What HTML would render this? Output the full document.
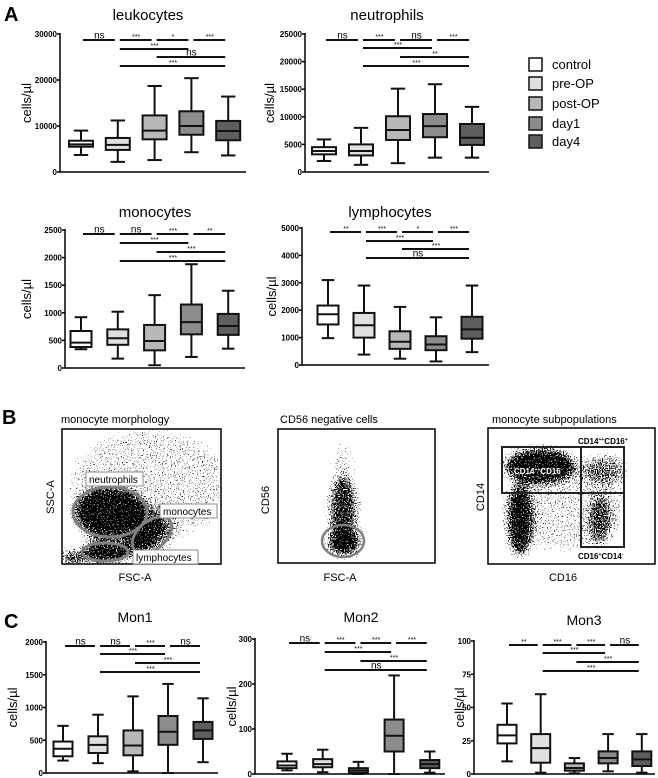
<!DOCTYPE html>
<html><head><meta charset="utf-8"><style>
html,body{margin:0;padding:0;background:#fff;}
svg{display:block;font-family:"Liberation Sans",Arial,sans-serif;}
</style></head><body>
<svg id="fig" width="658" height="778" viewBox="0 0 658 778">
<defs>
<filter id="spk" x="0" y="0" width="100%" height="100%" filterUnits="userSpaceOnUse">
 <feGaussianBlur in="SourceGraphic" stdDeviation="5" result="b"/>
 <feTurbulence type="fractalNoise" baseFrequency="0.85" numOctaves="1" seed="4" result="n"/>
 <feColorMatrix in="n" type="matrix" values="0 0 0 0 0  0 0 0 0 0  0 0 0 0 0  2.2 0 0 0 -0.55" result="na"/>
 <feComposite in="b" in2="na" operator="arithmetic" k1="0" k2="1" k3="-1" k4="0" result="d"/>
 <feComponentTransfer in="d"><feFuncA type="discrete" tableValues="0 1 1 1 1 1 1 1 1 1 1 1"/></feComponentTransfer>
</filter>
</defs>
<g font-weight="bold" font-size="20">
<text x="4" y="21">A</text>
<text x="2" y="424">B</text>
<text x="4" y="628">C</text>
</g>
<g id="charts"></g>
<g id="legend"></g>

<!-- Panel B -->
<g>
 <text x="61" y="423" font-size="11">monocyte morphology</text>
 <clipPath id="c1"><rect x="62" y="429" width="159" height="135"/></clipPath>
 <g filter="url(#spk)" clip-path="url(#c1)">
  <rect x="62" y="430" width="159" height="134" fill="#fff" opacity="0"/>
  <ellipse cx="150" cy="485" rx="80" ry="55" fill="#000" opacity="0.28"/>
  <ellipse cx="110" cy="512" rx="36" ry="25" fill="#000"/>
  <ellipse cx="145" cy="535" rx="22" ry="13" fill="#000" transform="rotate(-40 145 535)"/>
  <ellipse cx="105" cy="553" rx="25" ry="10" fill="#000"/>
  <ellipse cx="72" cy="558" rx="12" ry="6" fill="#000"/>
  <ellipse cx="130" cy="530" rx="45" ry="30" fill="#000" opacity="0.5"/>
 </g>
 <rect x="62" y="429" width="159" height="135" fill="none" stroke="#000" stroke-width="1.5"/>
 <g fill="none" stroke="#808080" stroke-width="3">
  <ellipse cx="110" cy="512" rx="37" ry="25"/>
  <ellipse cx="152" cy="535" rx="23" ry="14" transform="rotate(-40 152 535)"/>
  <ellipse cx="105" cy="552" rx="23" ry="9"/>
 </g>
 <g font-size="10">
  <rect x="86" y="472" width="57" height="14" fill="#fff" stroke="#888"/><text x="89" y="483">neutrophils</text>
  <rect x="160" y="504" width="57" height="14" fill="#fff" stroke="#888"/><text x="163" y="515">monocytes</text>
  <rect x="133" y="550" width="65" height="14" fill="#fff" stroke="#888"/><text x="136" y="561">lymphocytes</text>
 </g>
 <text x="135" y="581" font-size="11" text-anchor="middle">FSC-A</text>
 <text transform="translate(54 497) rotate(-90)" font-size="11" text-anchor="middle">SSC-A</text>
</g>

<g>
 <text x="280" y="423" font-size="11">CD56 negative cells</text>
 <g filter="url(#spk)">
  <rect x="278" y="429" width="157" height="134" fill="#fff" opacity="0"/>
  <ellipse cx="343" cy="470" rx="10" ry="28" fill="#000" opacity="0.3"/>
  <ellipse cx="343" cy="512" rx="14" ry="36" fill="#000" opacity="0.85"/>
  <ellipse cx="344" cy="542" rx="17" ry="14" fill="#000"/>
 </g>
 <rect x="278" y="429" width="157" height="134" fill="none" stroke="#000" stroke-width="1.5"/>
 <ellipse cx="343" cy="541" rx="21" ry="16" fill="none" stroke="#808080" stroke-width="2.5"/>
 <text x="340" y="581" font-size="11" text-anchor="middle">FSC-A</text>
 <text transform="translate(269 500) rotate(-90)" font-size="11" text-anchor="middle">CD56</text>
</g>

<g>
 <text x="492" y="423" font-size="11">monocyte subpopulations</text>
 <g filter="url(#spk)">
  <rect x="488" y="428" width="167" height="136" fill="#fff" opacity="0"/>
  <ellipse cx="565" cy="505" rx="60" ry="45" fill="#000" opacity="0.28"/>
  <ellipse cx="540" cy="466" rx="36" ry="18" fill="#000"/>
  <ellipse cx="520" cy="520" rx="13" ry="36" fill="#000"/>
  <ellipse cx="600" cy="520" rx="12" ry="26" fill="#000" opacity="0.7"/>
  <ellipse cx="605" cy="470" rx="22" ry="15" fill="#000" opacity="0.6"/>
 </g>
 <rect x="488" y="428" width="167" height="136" fill="none" stroke="#000" stroke-width="1.5"/>
 <g fill="none" stroke="#222" stroke-width="2">
  <rect x="502" y="447" width="79" height="46"/>
  <rect x="581" y="447" width="43" height="46"/>
  <rect x="581" y="493" width="43" height="54"/>
 </g>
 <g font-size="8" font-weight="bold">
  <text x="578" y="444">CD14<tspan dy="-3" font-size="5">++</tspan><tspan dy="3">CD16</tspan><tspan dy="-3" font-size="5">+</tspan></text>
  <text x="514" y="474" fill="#fff">CD14<tspan dy="-3" font-size="5">++</tspan><tspan dy="3">CD16</tspan><tspan dy="-3" font-size="5">-</tspan></text>
  <text x="578" y="559">CD16<tspan dy="-3" font-size="5">+</tspan><tspan dy="3">CD14</tspan><tspan dy="-3" font-size="5">-</tspan></text>
 </g>
 <text x="563" y="581" font-size="11" text-anchor="middle">CD16</text>
 <text transform="translate(484 497) rotate(-90)" font-size="11" text-anchor="middle">CD14</text>
</g>
</svg>
<script>
const categories = ["control","pre-OP","post-OP","day1","day4"];
const fills = ["#ffffff","#e0e0e0","#b8b8b8","#8c8c8c","#5e5e5e"];
// [low whisker, q1, median, q3, high whisker]
const leukocytes = [[3700,5500,6000,6800,9000],[2200,4800,5900,7400,11200],[2600,7100,9000,12300,18700],[4300,8100,10000,13200,20400],[3600,6900,8900,11100,16400]];
const neutrophils = [[2000,3200,3800,4500,5900],[1300,3000,3800,5000,8000],[1600,5800,7600,10100,15100],[2600,6300,8300,10500,15900],[2600,4900,6200,8700,11800]];
const monocytes = [[340,380,460,670,920],[170,420,540,700,1020],[50,320,490,780,1320],[200,610,830,1150,1880],[350,600,760,980,1400]];
const lymphocytes = [[980,1480,1850,2170,3100],[380,1000,1450,1900,2900],[230,590,850,1230,2120],[130,540,750,1050,1740],[470,960,1300,1760,2900]];
const mon1 = [[190,255,370,480,720],[150,305,430,560,890],[25,270,420,650,1170],[0,430,630,870,1360],[165,520,650,780,1140]];
const mon2 = [[8,13,19,28,45],[4,15,22,33,54],[0,3,8,13,27],[0,50,85,121,219],[3,13,22,31,50]];
const mon3 = [[9.5,23,29,37,53],[1,8.5,19.5,30,60],[0.5,2.5,4.5,8,12],[2,8,12,17,30],[1,6,11,17,30]];
const leukoTicks = [0,10000,20000,30000];
const neutroTicks = [0,5000,10000,15000,20000,25000];
const monoTicks = [0,500,1000,1500,2000,2500];
const lymphoTicks = [0,1000,2000,3000,4000,5000];
const mon1Ticks = [0,500,1000,1500,2000];
const mon2Ticks = [0,100,200,300];
const mon3Ticks = [0,25,50,75,100];
// significance brackets: [from, to, label, row]
const leukoSig = [[0,1,"ns",0],[1,2,"***",0],[2,3,"*",0],[3,4,"***",0],[1,3,"***",1],[2,4,"ns",2],[1,4,"***",3]];
const neutroSig = [[0,1,"ns",0],[1,2,"***",0],[2,3,"ns",0],[3,4,"***",0],[1,3,"***",1],[2,4,"**",2],[1,4,"***",3]];
const monoSig = [[0,1,"ns",0],[1,2,"ns",0],[2,3,"***",0],[3,4,"**",0],[1,3,"***",1],[2,4,"***",2],[1,4,"***",3]];
const lymphoSig = [[0,1,"**",0],[1,2,"***",0],[2,3,"*",0],[3,4,"***",0],[1,3,"***",1],[2,4,"***",2],[1,4,"ns",3]];
const mon1Sig = [[0,1,"ns",0],[1,2,"ns",0],[2,3,"***",0],[3,4,"ns",0],[1,3,"***",1],[2,4,"***",2],[1,4,"***",3]];
const mon2Sig = [[0,1,"ns",0],[1,2,"***",0],[2,3,"***",0],[3,4,"***",0],[1,3,"***",1],[2,4,"***",2],[1,4,"ns",3]];
const mon3Sig = [[0,1,"**",0],[1,2,"***",0],[2,3,"***",0],[3,4,"ns",0],[1,3,"***",1],[2,4,"***",2],[1,4,"***",3]];

const NS="http://www.w3.org/2000/svg";
const root=document.getElementById('charts');
function mk(tag,attrs,parent){const e=document.createElementNS(NS,tag);for(const k in attrs)e.setAttribute(k,attrs[k]);parent.appendChild(e);return e;}

function chart(name,title,data,ticks,sig,cfg){
  const g=mk('g',{},root);
  
  
  const max=ticks[ticks.length-1];
  const y=v=>cfg.y0-v/max*(cfg.y0-cfg.yTop);
  const x=i=>cfg.x0+i*cfg.step;
  const t=mk('text',{x:cfg.tx,y:cfg.ty,'font-size':cfg.tfs,'text-anchor':'middle'},g);t.textContent=title;
  
  
  const yl=mk('text',{transform:`translate(${cfg.ylx} ${(cfg.y0+cfg.yTop)/2}) rotate(-90)`,'font-size':13,'text-anchor':'middle'},g);yl.textContent='cells/µl';
  
  
  const ax=mk('path',{d:`M${cfg.ax} ${cfg.yTop-1}V${cfg.y0}H${cfg.endX}`,stroke:'#000','stroke-width':1.5,fill:'none'},g);
  
  
  ticks.forEach(v=>{
    mk('line',{x1:cfg.ax-3,x2:cfg.ax,y1:y(v),y2:y(v),stroke:'#000','stroke-width':1.5},g);
    const tl=mk('text',{x:cfg.ax-3,y:y(v)+3,'font-size':8,'font-weight':'bold','text-anchor':'end'},g);tl.textContent=v;
    
    
  });
  data.forEach((d,i)=>{
    const bg=mk('g',{stroke:'#111','stroke-width':2,fill:'none'},g);
    
    
    const cx=x(i),hw=cfg.bw/2,cw=cfg.bw*0.3;
    mk('line',{x1:cx,x2:cx,y1:y(d[0]),y2:y(d[1])},bg);
    mk('line',{x1:cx,x2:cx,y1:y(d[3]),y2:y(d[4])},bg);
    mk('line',{x1:cx-cw,x2:cx+cw,y1:y(d[0]),y2:y(d[0])},bg);
    mk('line',{x1:cx-cw,x2:cx+cw,y1:y(d[4]),y2:y(d[4])},bg);
    mk('rect',{x:cx-hw,y:y(d[3]),width:cfg.bw,height:Math.max(0.5,y(d[1])-y(d[3])),fill:fills[i]},bg);
    mk('line',{x1:cx-hw,x2:cx+hw,y1:y(d[2]),y2:y(d[2])},bg);
  });
  sig.forEach(s=>{
    const ry=cfg.rows[s[3]];
    const l=mk('line',{x1:x(s[0])+2,x2:x(s[1])-3,y1:ry,y2:ry,stroke:'#111','stroke-width':2},g);
    
    
    const isNs=s[2]==='ns';
    const tx=mk('text',{x:(x(s[0])+x(s[1]))/2,y:isNs?ry-1.5:ry-1,'font-size':isNs?10:7,'text-anchor':'middle'},g);tx.textContent=s[2];
    
    
  });
}
chart('leukocytes','leukocytes',leukocytes,leukoTicks,leukoSig,{ax:60,y0:172,yTop:34,x0:81,step:36.8,bw:24,endX:246,rows:[40,49,57,66],tx:148,ty:20,tfs:15,ylx:31});
chart('neutrophils','neutrophils',neutrophils,neutroTicks,neutroSig,{ax:305,y0:172,yTop:34,x0:324,step:37,bw:24,endX:489,rows:[40,48,57,66],tx:387,ty:20,tfs:15,ylx:274});
chart('monocytes','monocytes',monocytes,monoTicks,monoSig,{ax:65,y0:368,yTop:230,x0:81,step:36.8,bw:21,endX:245,rows:[234,243,252,261],tx:155,ty:217,tfs:15,ylx:31});
chart('lymphocytes','lymphocytes',lymphocytes,lymphoTicks,lymphoSig,{ax:302,y0:365,yTop:228,x0:328,step:36,bw:21,endX:489,rows:[232,241,249,258],tx:390,ty:217,tfs:15,ylx:276});
chart('mon1','Mon1',mon1,mon1Ticks,mon1Sig,{ax:46,y0:773,yTop:642,x0:63,step:35,bw:19,endX:218,rows:[646,654,663,672],tx:135,ty:622,tfs:14,ylx:17});
chart('mon2','Mon2',mon2,mon2Ticks,mon2Sig,{ax:255,y0:774,yTop:639,x0:287,step:35.7,bw:19,endX:445,rows:[643,652,661,670],tx:361,ty:622,tfs:14,ylx:236});
chart('mon3','Mon3',mon3,mon3Ticks,mon3Sig,{ax:474,y0:774,yTop:641,x0:507,step:33.7,bw:19,endX:655,rows:[645,653,662,671],tx:584,ty:625,tfs:14,ylx:464});

const lg=document.getElementById('legend');
categories.forEach((c,i)=>{
  const yy=[58,77,97,117,135][i];
  const r=mk('rect',{x:529,y:yy,width:13,height:13,fill:fills[i],stroke:'#111','stroke-width':1.5},lg);
  
  
  const t=mk('text',{x:552,y:yy+11,'font-size':13},lg);t.textContent=c;
  
  
});
</script>
</body></html>
